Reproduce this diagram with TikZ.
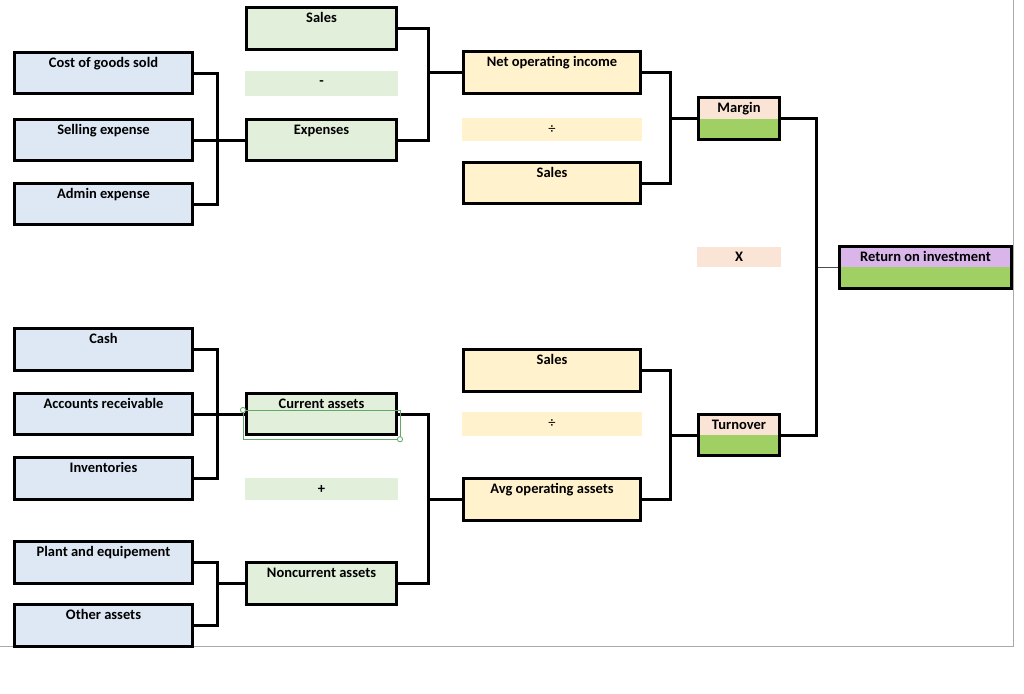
\documentclass[tikz,border=0pt]{standalone}
\usepackage{fontspec}
\setmainfont{Carlito}
\usepackage{tikz}
\usetikzlibrary{positioning}

\definecolor{bluecell}{HTML}{DDE8F4}
\definecolor{greencell}{HTML}{E2EFDA}
\definecolor{yellowcell}{HTML}{FFF2CC}
\definecolor{pinkcell}{HTML}{FAE4D6}
\definecolor{purplecell}{HTML}{D9B5EA}
\definecolor{resultgreen}{HTML}{A0CF63}
\definecolor{selgreen}{HTML}{62A866}
\definecolor{sheetgray}{HTML}{AAAAAA}

\begin{document}
\begin{tikzpicture}[
        x=1pt, y=-1pt,
        font=\fontsize{14.5}{16}\selectfont\bfseries,
        cell/.style={draw, line width=3pt, inner xsep=0pt, inner ysep=0pt,
            minimum height=41.5pt, text height=15pt, text depth=26.5pt},
        leaf/.style={cell, fill=bluecell, minimum width=178pt},
        sub/.style={cell, fill=greencell, minimum width=150pt},
        ratio/.style={cell, fill=yellowcell, minimum width=177pt},
        result/.style={cell, fill=resultgreen, minimum width=#1,
            path picture={\fill[pinkcell] (path picture bounding box.north west)
                rectangle ([yshift=-21pt]path picture bounding box.north east);}},
        opband/.style={fill=#1, inner sep=0pt},
        link/.style={line width=3pt}
      ]

      \useasboundingbox (0,0) rectangle (1024,693);

      % sheet edge
      \draw[sheetgray, line width=1pt] (1013,0) -- (1013,646) -- (0,646);

      % ==================== MARGIN SIDE ====================

      \node (CostGoods) [leaf] at (103.5,73)  {Cost of goods sold};
      \node (Selling)   [leaf] at (103.5,140) {Selling expense};
      \node (Admin)     [leaf] at (103.5,204) {Admin expense};

      \node (SalesA)   [sub] at (321.5,28.5) {Sales};
      \node (Minus)    [opband=greencell, minimum width=153pt, minimum height=25pt] at (321.5,83.5) {-};
      \node (Expenses) [sub] at (321.5,140) {Expenses};

      \node (NetIncome) [ratio] at (552,72.5) {Net operating income};
      \node (DivA)      [opband=yellowcell, font=\fontsize{14.5}{16}\selectfont,
          minimum width=180pt, minimum height=23pt] at (552,129.5) {÷};
      \node (SalesB)    [ratio] at (552,183) {Sales};

      \node (Margin) [result=81pt] at (739,118.5) {Margin};

      % ==================== TURNOVER SIDE ====================

      \node (Cash)        [leaf] at (103.5,349.5) {Cash};
      \node (Receivables) [leaf] at (103.5,414)   {Accounts receivable};
      \node (Inventories) [leaf] at (103.5,478.5) {Inventories};
      \node (Plant)       [leaf] at (103.5,562.5) {Plant and equipement};
      \node (OtherAssets) [leaf] at (103.5,625.5) {Other assets};

      \node (Current)    [sub] at (321.5,414) {Current assets};
      \node (Plus)       [opband=greencell, minimum width=153pt, minimum height=22pt] at (321.5,489) {+};
      \node (Noncurrent) [sub] at (321.5,583.5) {Noncurrent assets};

      \node (SalesC)  [ratio] at (552,370.5) {Sales};
      \node (DivB)    [opband=yellowcell, font=\fontsize{14.5}{16}\selectfont,
          minimum width=180pt, minimum height=24pt] at (552,424) {÷};
      \node (AvgAssets) [ratio] at (552,499.5) {Avg operating assets};

      \node (Turnover) [result=81pt] at (739,435) {Turnover};

      % ==================== RESULT ====================

      \node (Times) [opband=pinkcell, minimum width=84pt, minimum height=20pt] at (739,257) {X};
      \node (ROI) [result=172pt, minimum height=40.5pt,
          path picture={\fill[purplecell] (path picture bounding box.north west)
          rectangle ([yshift=-20pt]path picture bounding box.north east);}]
          at (925.5,267.5) {Return on investment};

      % ==================== CONNECTORS ====================

      \draw[link] (Expenses.west) -- ++(-28,0) coordinate (JoinExp);
      \draw[link] (CostGoods.east) -| (JoinExp) |- (Admin.east);
      \draw[link] (Selling.east) -- (Expenses.west);

      \draw[link] (NetIncome.west) -- ++(-34,0) coordinate (JoinNet);
      \draw[link] (SalesA.east) -| (JoinNet) |- (Expenses.east);

      \draw[link] (Margin.west) -- ++(-27,0) coordinate (JoinMargin);
      \draw[link] (NetIncome.east) -| (JoinMargin) |- (SalesB.east);

      \draw[link] (Current.west) -- ++(-28,0) coordinate (JoinCur);
      \draw[link] (Cash.east) -| (JoinCur) |- (Inventories.east);
      \draw[link] (Receivables.east) -- (Current.west);

      \draw[link] (Noncurrent.west) -- ++(-28,0) coordinate (JoinNon);
      \draw[link] (Plant.east) -| (JoinNon) |- (OtherAssets.east);

      \draw[link] (AvgAssets.west) -- ++(-34,0) coordinate (JoinAvg);
      \draw[link] (Current.east) -| (JoinAvg) |- (Noncurrent.east);

      \draw[link] (Turnover.west) -- ++(-27,0) coordinate (JoinTurn);
      \draw[link] (SalesC.east) -| (JoinTurn) |- (AvgAssets.east);

      \draw[line width=1.3pt, black!70] (ROI.west) -- ++(-22,0) coordinate (JoinROI);
      \draw[link] (Margin.east) -| (JoinROI) |- (Turnover.east);

      % selection frame on current assets
      \draw[selgreen, line width=0.8pt] ([shift={(-2,-4)}]Current.west) coordinate (SelA)
          rectangle ([shift={(2,3)}]Current.south east) coordinate (SelB);
      \draw[selgreen, line width=0.8pt, fill=white] (SelA) circle (2.6pt) (SelB) circle (2.6pt);

    \end{tikzpicture}
\end{document}
